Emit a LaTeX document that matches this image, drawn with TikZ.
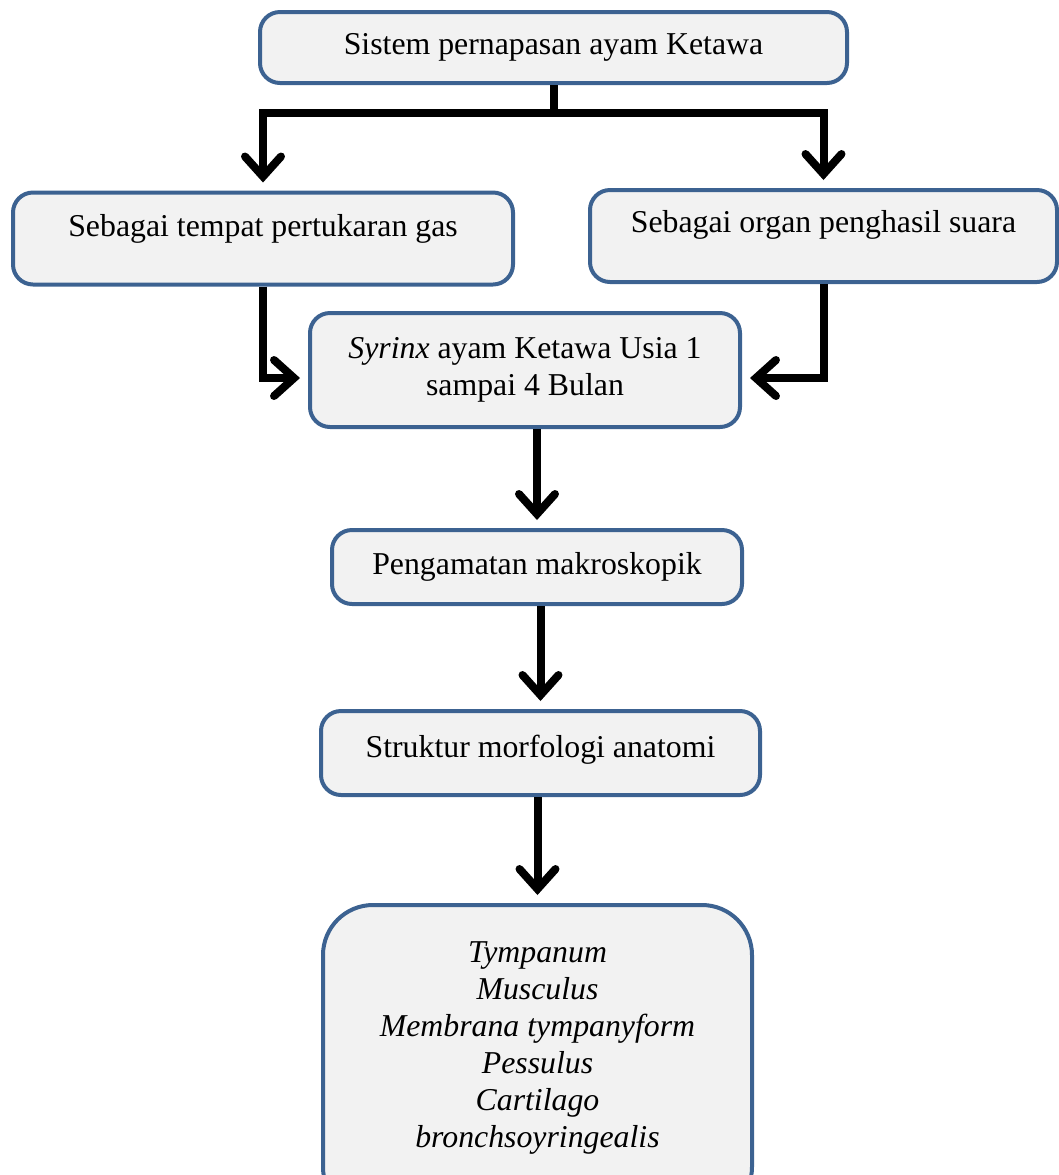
\documentclass[tikz,border=0pt]{standalone}
\usepackage{fontspec}
\setmainfont{Liberation Serif}
\usetikzlibrary{arrows.meta}
\definecolor{boxline}{HTML}{3C6291}
\definecolor{boxfill}{HTML}{F2F2F2}
\begin{document}
\begin{tikzpicture}[x=0.5pt,y=-0.5pt,
	box/.style={draw=boxline,fill=boxfill,line width=2pt,rounded corners=10pt,
		inner sep=0pt,align=center,font=\fontsize{15.9}{18.5}\selectfont},
	arr/.style={line width=4pt,-{Straight Barb[length=10pt,width=18pt,line cap=round]},shorten >=4pt},
	link/.style={line width=4pt}]
	\useasboundingbox (0,0) rectangle (1059,1175);
	\node[box,minimum width=293.5pt,minimum height=35.5pt] (top) at (553.5,47.5) {Sistem pernapasan ayam Ketawa};
	\node[box,minimum width=250pt,text height=22pt,text depth=24pt] (gas) at (263,238.5) {Sebagai tempat pertukaran gas};
	\node[box,minimum width=233.5pt,text height=21pt,text depth=25pt] (sound) at (823.5,236) {Sebagai organ penghasil suara};
	\node[box,minimum width=215pt,minimum height=57pt] (syr) at (525,370) {\textit{Syrinx} ayam Ketawa Usia 1\\sampai 4 Bulan};
	\node[box,minimum width=205pt,minimum height=37pt] (peng) at (537,567) {Pengamatan makroskopik};
	\node[box,minimum width=219.5pt,text height=23pt,text depth=19pt] (strk) at (540.5,753) {Struktur morfologi anatomi};
	\node[box,minimum width=214.5pt,minimum height=156pt,rounded corners=25pt,font=\itshape\fontsize{15.9}{18.5}\selectfont] (parts) at (537.5,1061)
		{\raisebox{6.5pt}[\height][\depth]{\begin{tabular}{@{}c@{}}Tympanum\\Musculus\\Membrana tympanyform\\Pessulus\\Cartilago\\bronchsoyringealis\end{tabular}}};
	\coordinate (split) at (553.5,113);
	\draw[link] (top) -- (split);
	\draw[arr] (split) -| (gas.north);
	\draw[arr] (split) -| (sound.north);
	\draw[arr] (gas.south) |- ([yshift=-4pt]syr.west);
	\draw[arr] (sound.south) |- ([yshift=-4pt]syr.east);
	\draw[arr] (peng.north |- syr.south) -- (peng.north);
	\draw[arr] (strk.north |- peng.south) -- (strk.north);
	\draw[arr] (parts.north |- strk.south) -- (parts.north);
\end{tikzpicture}
\end{document}
